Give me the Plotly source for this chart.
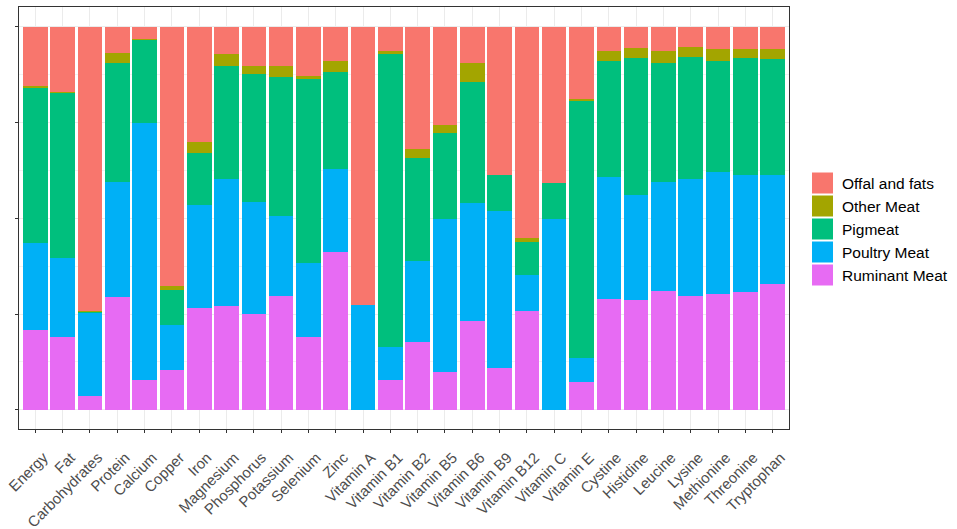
import plotly.graph_objects as go

categories = ["Energy", "Fat", "Carbohydrates", "Protein", "Calcium", "Copper", "Iron",
              "Magnesium", "Phosphorus", "Potassium", "Selenium", "Zinc", "Vitamin A",
              "Vitamin B1", "Vitamin B2", "Vitamin B5", "Vitamin B6", "Vitamin B9",
              "Vitamin B12", "Vitamin C", "Vitamin E", "Cystine", "Histidine", "Leucine",
              "Lysine", "Methionine", "Threonine", "Tryptophan"]

ruminant = [0.209, 0.190, 0.035, 0.296, 0.078, 0.104, 0.266, 0.270, 0.251, 0.298, 0.190, 0.413, 0.0,
            0.078, 0.177, 0.098, 0.232, 0.109, 0.258, 0.0, 0.074, 0.290, 0.287, 0.311, 0.298, 0.303,
            0.308, 0.329]
poultry = [0.226, 0.206, 0.219, 0.300, 0.671, 0.118, 0.270, 0.333, 0.293, 0.209, 0.193, 0.216, 0.274,
           0.086, 0.213, 0.401, 0.309, 0.409, 0.093, 0.499, 0.061, 0.319, 0.273, 0.285, 0.305, 0.317,
           0.304, 0.285]
pigmeat = [0.407, 0.432, 0.002, 0.311, 0.217, 0.091, 0.134, 0.296, 0.332, 0.363, 0.483, 0.254, 0.0,
           0.765, 0.267, 0.225, 0.316, 0.094, 0.087, 0.093, 0.673, 0.303, 0.360, 0.311, 0.319, 0.292,
           0.308, 0.302]
other_meat = [0.005, 0.002, 0.002, 0.026, 0.003, 0.011, 0.029, 0.030, 0.023, 0.029, 0.005, 0.028, 0.0,
              0.009, 0.023, 0.019, 0.048, 0.0, 0.011, 0.0, 0.003, 0.024, 0.026, 0.029, 0.025, 0.031,
              0.023, 0.026]
offal = [0.153, 0.170, 0.742, 0.067, 0.031, 0.676, 0.301, 0.071, 0.101, 0.101, 0.129, 0.089, 0.726,
         0.062, 0.320, 0.257, 0.095, 0.388, 0.551, 0.408, 0.189, 0.064, 0.054, 0.064, 0.053, 0.057,
         0.057, 0.058]

# stacking order bottom -> top
series = [
    ("Ruminant Meat", ruminant, "#E76BF3"),
    ("Poultry Meat", poultry, "#00B0F6"),
    ("Pigmeat", pigmeat, "#00BF7D"),
    ("Other Meat", other_meat, "#A3A500"),
    ("Offal and fats", offal, "#F8766D"),
]

# position = "fill": normalise each category to 1
totals = [sum(s[1][i] for s in series) for i in range(len(categories))]

W, H = 957, 529
ML, MR, MT, MB = 19, 168, 7, 100
PW, PH = W - ML - MR, H - MT - MB

fig = go.Figure()
for name, vals, col in series:
    fig.add_trace(go.Bar(
        x=categories, y=[v / t for v, t in zip(vals, totals)], name=name,
        marker=dict(color=col, line=dict(width=0)), width=0.9, showlegend=False,
    ))

font_family = "Liberation Sans, Arial, sans-serif"

# legend drawn manually (ggplot-style keys); positions in screen pixels
legend_order = ["Offal and fats", "Other Meat", "Pigmeat", "Poultry Meat", "Ruminant Meat"]
colors = {n: c for n, _, c in series}
key_px = 21
key_x0 = 812
text_x = 840
item_gap = 23
first_center_y = 183
shapes = []
annotations = []
for i, name in enumerate(legend_order):
    cy = first_center_y + i * item_gap
    x0 = (key_x0 - ML) / PW
    x1 = (key_x0 + key_px - ML) / PW
    y0 = (H - MB - (cy + key_px / 2)) / PH
    y1 = (H - MB - (cy - key_px / 2)) / PH
    shapes.append(dict(type="rect", xref="paper", yref="paper", x0=x0, x1=x1, y0=y0, y1=y1,
                       fillcolor=colors[name], line=dict(width=0), layer="above"))
    annotations.append(dict(xref="paper", yref="paper", x=(text_x - ML) / PW, y=(H - MB - cy) / PH,
                            text=name, showarrow=False, xanchor="left", yanchor="middle",
                            font=dict(size=15.5, color="#000000", family=font_family)))

fig.update_layout(
    width=W, height=H, autosize=False,
    margin=dict(l=ML, r=MR, t=MT, b=MB),
    paper_bgcolor="white", plot_bgcolor="white",
    barmode="stack", bargap=0.1,
    shapes=shapes, annotations=annotations,
    font=dict(family=font_family),
    xaxis=dict(
        range=[-0.6, len(categories) - 0.4], tickangle=-45, automargin=False,
        tickfont=dict(size=15, color="#4D4D4D", family=font_family),
        ticks="outside", ticklen=3, tickcolor="#333333",
        ticklabelshift=8, ticklabelstandoff=10,
        showgrid=True, gridcolor="#EBEBEB", gridwidth=1,
        showline=True, mirror=True, linecolor="#333333", linewidth=1,
        zeroline=False,
    ),
    yaxis=dict(
        range=[-0.05, 1.052], tickvals=[0, 0.25, 0.5, 0.75, 1.0], showticklabels=False,
        automargin=False,
        ticks="outside", ticklen=3, tickcolor="#333333",
        showgrid=True, gridcolor="#EBEBEB", gridwidth=1,
        minor=dict(tickvals=[0.125, 0.375, 0.625, 0.875], showgrid=True, gridcolor="#F2F2F2",
                   ticks=""),
        showline=True, mirror=True, linecolor="#333333", linewidth=1,
        zeroline=False,
    ),
)

fig.write_html("out.html", config={"displayModeBar": False},
               post_script="document.body.style.margin='0';")
